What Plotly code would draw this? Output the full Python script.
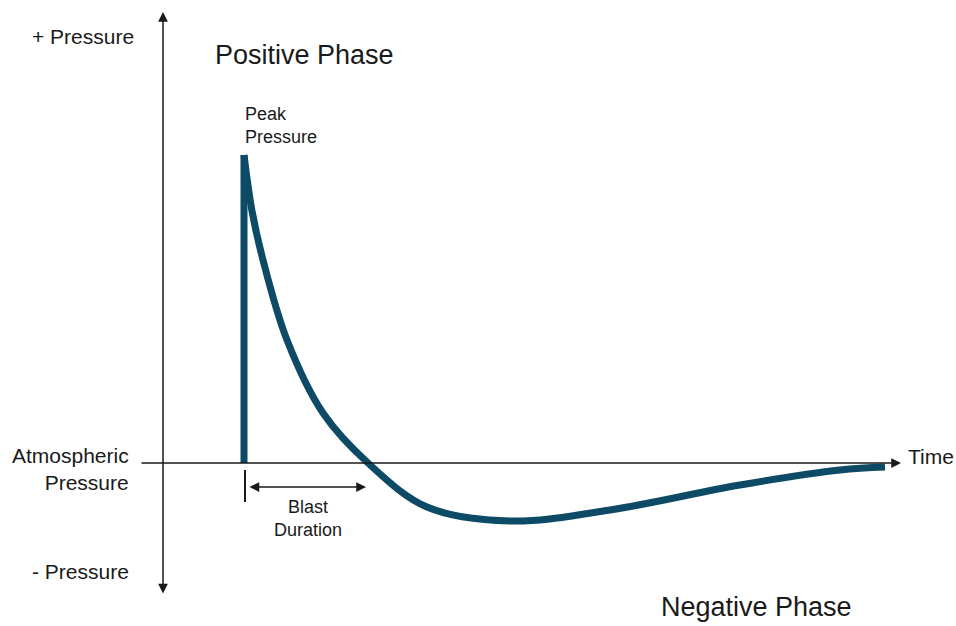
import plotly.graph_objects as go

# pressure is measured relative to atmospheric (0), time along the horizontal axis
rise_time = [244, 244]
rise_pressure = [0, 308]

decay_time = [244, 252, 263, 287, 323, 368, 427, 510, 610, 740, 840, 885]
decay_pressure = [308, 252, 203, 123, 50, 0, -44, -58, -47, -22, -7, -4]

CURVE = "#0d4a66"
INK = "#1a1a1a"
FONT = "Liberation Sans, Arial, sans-serif"

fig = go.Figure()
fig.add_trace(go.Scatter(x=rise_time, y=rise_pressure, mode="lines",
                         line=dict(color=CURVE, width=7), hoverinfo="skip"))
fig.add_trace(go.Scatter(x=decay_time, y=decay_pressure, mode="lines",
                         line=dict(color=CURVE, width=7, shape="spline", smoothing=1.0),
                         hoverinfo="skip"))

def arrow(x0, y0, x1, y1, both=False):
    fig.add_annotation(x=x1, y=y1, ax=x0, ay=y0, xref="x", yref="y", axref="x", ayref="y",
                       text="", showarrow=True, arrowhead=2, arrowsize=1.3, arrowwidth=1.5,
                       arrowcolor=INK, arrowside="end+start" if both else "end",
                       startarrowhead=2, startarrowsize=1.3)

# axes
arrow(163, -132, 163, 451, both=True)
arrow(140, 0, 901, 0)
# blast duration marker
fig.add_shape(type="line", x0=245, x1=245, y0=-7, y1=-39, line=dict(color=INK, width=2))
arrow(248, -24, 366, -24, both=True)

def label(x, y, text, size=21, xanchor="center"):
    fig.add_annotation(x=x, y=y, text=text, showarrow=False, xanchor=xanchor, yanchor="middle",
                       align="right" if xanchor == "right" else ("left" if xanchor == "left" else "center"),
                       font=dict(size=size, color=INK, family=FONT))

label(136, 427, "+ Pressure", xanchor="right")
label(213, 408, "Positive Phase", size=27, xanchor="left")
label(243, 338, "Peak<br>Pressure", size=18, xanchor="left")
label(131, -6, "Atmospheric<br>Pressure", xanchor="right")
label(131, -108, "- Pressure", xanchor="right")
label(906, 7, "Time", xanchor="left")
label(308, -55, "Blast<br>Duration", size=18)
label(756, -144, "Negative Phase", size=27)

fig.update_layout(
    width=956, height=626,
    margin=dict(l=0, r=0, t=0, b=0),
    paper_bgcolor="white", plot_bgcolor="white",
    showlegend=False,
    xaxis=dict(range=[0, 956], visible=False, fixedrange=True),
    yaxis=dict(range=[-163, 463], visible=False, fixedrange=True),
)

fig.write_html("out.html", config={"displayModeBar": False},
               post_script="document.body.style.margin='0';")
